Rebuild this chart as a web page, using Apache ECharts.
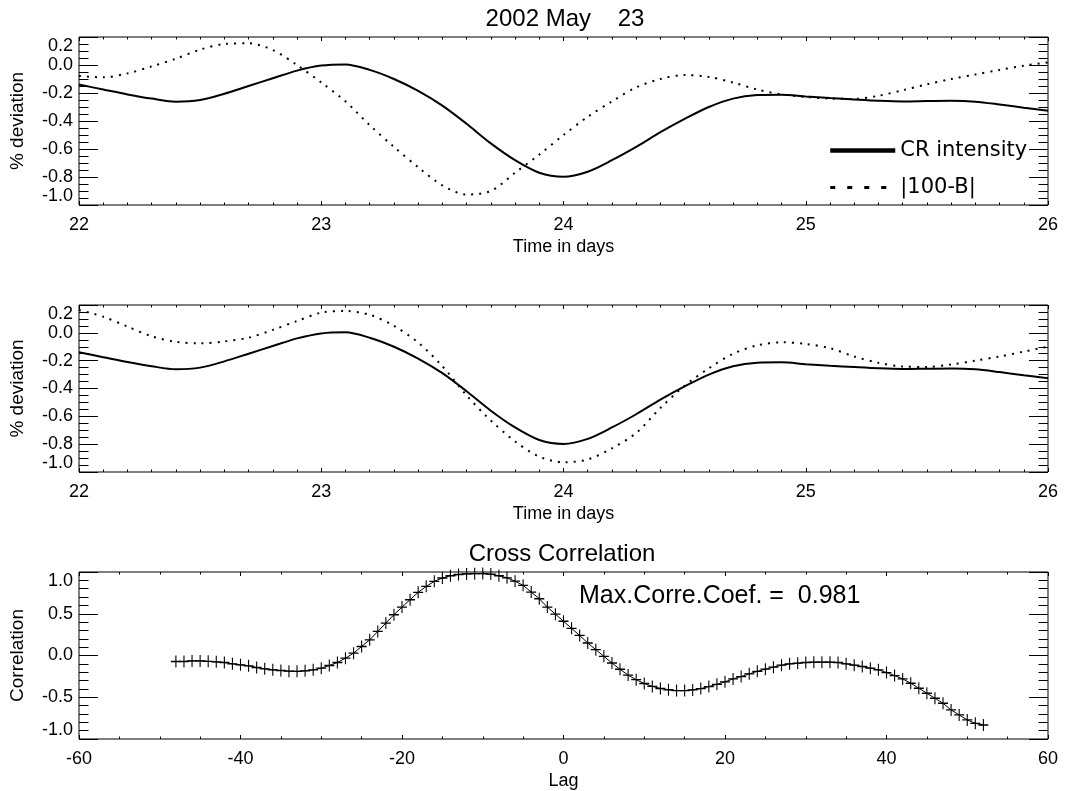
<!DOCTYPE html>
<html>
<head>
<meta charset="utf-8">
<title>2002 May 23 - CR intensity vs |100-B|</title>
<script src="https://cdn.jsdelivr.net/npm/echarts@6/dist/echarts.min.js"></script>
<style>
  html, body { margin: 0; padding: 0; background: #fff; }
  #chart { width: 1080px; height: 791px; }
</style>
</head>
<body>
<div id="chart"></div>
<script>
// time axis of the two upper panels (days of May 2002)
const timeDays = [
  22.0, 22.1, 22.2, 22.3, 22.4, 22.5, 22.6, 22.7, 22.8, 22.9,
  23.0, 23.1, 23.2, 23.3, 23.4, 23.5, 23.6, 23.7, 23.8, 23.9,
  24.0, 24.1, 24.2, 24.3, 24.4, 24.5, 24.6, 24.7, 24.8, 24.9,
  25.0, 25.1, 25.2, 25.3, 25.4, 25.5, 25.6, 25.7, 25.8, 25.9, 26.0
]

// % deviation of the CR intensity (same curve in both panels)
const crIntensity = [
  -0.140, -0.175, -0.210, -0.240, -0.262, -0.250, -0.205, -0.150, -0.095, -0.040,
  -0.004, 0.004, -0.035, -0.100, -0.185, -0.290, -0.420, -0.560, -0.680, -0.770,
  -0.798, -0.762, -0.680, -0.585, -0.480, -0.385, -0.300, -0.240, -0.215, -0.212,
  -0.225, -0.236, -0.246, -0.255, -0.260, -0.258, -0.256, -0.262, -0.282, -0.305, -0.327
]

// |100-B| as measured (top panel)
const bDeviation = [
  -0.078, -0.088, -0.060, -0.010, 0.045, 0.110, 0.150, 0.155, 0.107, 0.000,
  -0.125, -0.260, -0.430, -0.585, -0.730, -0.860, -0.925, -0.900, -0.770, -0.640,
  -0.500, -0.370, -0.260, -0.160, -0.100, -0.071, -0.085, -0.125, -0.175, -0.210,
  -0.228, -0.240, -0.242, -0.220, -0.180, -0.138, -0.100, -0.068, -0.035, -0.005, 0.019
]

// |100-B| shifted by the lag of best correlation (middle panel)
const bDeviationShifted = [
  0.164, 0.116, 0.045, -0.025, -0.065, -0.075, -0.062, -0.035, 0.021, 0.085,
  0.145, 0.157, 0.130, 0.050, -0.070, -0.240, -0.450, -0.630, -0.780, -0.890,
  -0.930, -0.910, -0.830, -0.720, -0.540, -0.380, -0.255, -0.150, -0.090, -0.068,
  -0.080, -0.110, -0.170, -0.215, -0.242, -0.245, -0.228, -0.200, -0.170, -0.135, -0.099
]

// cross correlation
const lags = [
  -48, -47, -46, -45, -44, -43, -42, -41, -40, -39, -38, -37, -36, -35, -34, -33, -32,
  -31, -30, -29, -28, -27, -26, -25, -24, -23, -22, -21, -20, -19, -18, -17, -16, -15,
  -14, -13, -12, -11, -10, -9, -8, -7, -6, -5, -4, -3, -2, -1, 0, 1, 2, 3, 4, 5, 6, 7,
  8, 9, 10, 11, 12, 13, 14, 15, 16, 17, 18, 19, 20, 21, 22, 23, 24, 25, 26, 27, 28, 29,
  30, 31, 32, 33, 34, 35, 36, 37, 38, 39, 40, 41, 42, 43, 44, 45, 46, 47, 48, 49, 50, 51, 52
]
const correlation = [
  -0.072, -0.072, -0.065, -0.065, -0.070, -0.076, -0.084, -0.100, -0.112, -0.124, -0.144,
  -0.160, -0.172, -0.180, -0.188, -0.190, -0.184, -0.172, -0.152, -0.120, -0.084, -0.032,
  0.028, 0.108, 0.188, 0.288, 0.388, 0.488, 0.580, 0.668, 0.756, 0.828, 0.888, 0.928,
  0.955, 0.970, 0.977, 0.980, 0.981, 0.975, 0.955, 0.930, 0.890, 0.840, 0.760, 0.680,
  0.580, 0.495, 0.410, 0.325, 0.240, 0.150, 0.070, -0.010, -0.090, -0.165, -0.235,
  -0.290, -0.335, -0.370, -0.395, -0.410, -0.420, -0.420, -0.412, -0.396, -0.372, -0.345,
  -0.315, -0.280, -0.252, -0.220, -0.190, -0.164, -0.140, -0.116, -0.100, -0.092, -0.084,
  -0.080, -0.080, -0.080, -0.084, -0.100, -0.116, -0.132, -0.152, -0.172, -0.204, -0.240,
  -0.280, -0.332, -0.392, -0.452, -0.512, -0.572, -0.652, -0.712, -0.772, -0.812, -0.832
]
const maxCorrCoef = 0.981

const FONT = 'Liberation Sans'
const zip = (xs, ys) => xs.map((x, i) => [x, ys[i]])
const black = { color: '#000' }

// IDL style box: ticks inside on all four sides, labels only bottom / left
function xAxes(grid, min, max, interval, minorSplit, name) {
  const base = {
    type: 'value', gridIndex: grid, min, max, interval,
    axisLine: { show: false, onZero: false }, splitLine: { show: false },
    axisTick: { inside: true, length: 4, lineStyle: black },
    minorTick: { show: true, splitNumber: minorSplit, length: 2.5, lineStyle: black }
  }
  return [
    {
      ...base, position: 'bottom',
      name, nameLocation: 'middle', nameGap: 33,
      nameTextStyle: { fontFamily: FONT, fontSize: 18, color: '#000' },
      axisLabel: { margin: 11, fontFamily: FONT, fontSize: 18, color: '#000' }
    },
    { ...base, position: 'top', axisLabel: { show: false } }
  ]
}

function yAxes(grid, min, max, interval, minorSplit, name) {
  const base = {
    type: 'value', gridIndex: grid, min, max, interval,
    axisLine: { show: false, onZero: false }, splitLine: { show: false },
    axisTick: { inside: true, length: 19, lineStyle: black },
    minorTick: { show: true, splitNumber: minorSplit, length: 9.5, lineStyle: black }
  }
  return [
    {
      ...base, position: 'left',
      name, nameLocation: 'middle', nameGap: 52,
      nameTextStyle: { fontFamily: FONT, fontSize: 19, color: '#000' },
      axisLabel: {
        margin: 6, fontFamily: FONT, fontSize: 18, color: '#000',
        formatter: v => v.toFixed(1),
        verticalAlignMinLabel: 'bottom', verticalAlignMaxLabel: 'top'
      }
    },
    { ...base, position: 'right', axisLabel: { show: false } }
  ]
}

const chart = echarts.init(document.getElementById('chart'))

chart.setOption({
  animation: false,
  backgroundColor: '#fff',
  title: [
    {
      text: '2002 May    23', left: 565, top: 19, padding: 0,
      textAlign: 'center', textVerticalAlign: 'middle',
      textStyle: { fontFamily: FONT, fontSize: 24, fontWeight: 'normal', color: '#000' }
    },
    {
      text: 'Cross Correlation', left: 562, top: 554, padding: 0,
      textAlign: 'center', textVerticalAlign: 'middle',
      textStyle: { fontFamily: FONT, fontSize: 24, fontWeight: 'normal', color: '#000' }
    }
  ],
  legend: {
    orient: 'vertical', left: 828, top: 140, padding: 0,
    itemWidth: 65, itemHeight: 14, itemGap: 16,
    selectedMode: false,
    itemStyle: { opacity: 0 },
    textStyle: { fontFamily: 'DejaVu Sans', fontSize: 21, color: '#000' },
    data: [
      { name: 'CR intensity', lineStyle: { width: 4.5 } },
      { name: '|100-B|', lineStyle: { width: 3, type: [5, 12] } }
    ]
  },
  graphic: [
    {
      type: 'text', x: 579, y: 596,
      style: {
        text: 'Max.Corre.Coef. =  ' + maxCorrCoef.toFixed(3),
        font: '25px "Liberation Sans"', fill: '#000', verticalAlign: 'middle'
      }
    }
  ],
  grid: [
    { left: 78, right: 32, top: 37, height: 168, show: true, borderColor: '#000', borderWidth: 1 },
    { left: 78, right: 32, top: 305, height: 167, show: true, borderColor: '#000', borderWidth: 1 },
    { left: 78, right: 32, top: 572, height: 167, show: true, borderColor: '#000', borderWidth: 1 }
  ],
  xAxis: [
    ...xAxes(0, 22, 26, 1, 10, 'Time in days'),
    ...xAxes(1, 22, 26, 1, 10, 'Time in days'),
    ...xAxes(2, -60, 60, 20, 4, 'Lag')
  ],
  yAxis: [
    ...yAxes(0, -1, 0.2, 0.2, 4, '% deviation'),
    ...yAxes(1, -1, 0.2, 0.2, 4, '% deviation'),
    ...yAxes(2, -1, 1, 0.5, 5, 'Correlation')
  ],
  series: [
    {
      name: 'CR intensity', type: 'line', xAxisIndex: 0, yAxisIndex: 0,
      data: zip(timeDays, crIntensity), smooth: 0.3, symbol: 'none',
      itemStyle: { color: '#000' },
      lineStyle: { color: '#000', width: 2 }
    },
    {
      name: '|100-B|', type: 'line', xAxisIndex: 0, yAxisIndex: 0,
      data: zip(timeDays, bDeviation), smooth: 0.3, symbol: 'none',
      itemStyle: { color: '#000' },
      lineStyle: { color: '#000', width: 2, type: [2, 6] }
    },
    {
      name: 'CR intensity', type: 'line', xAxisIndex: 2, yAxisIndex: 2,
      data: zip(timeDays, crIntensity), smooth: 0.3, symbol: 'none',
      itemStyle: { color: '#000' },
      lineStyle: { color: '#000', width: 2 }
    },
    {
      name: '|100-B|', type: 'line', xAxisIndex: 2, yAxisIndex: 2,
      data: zip(timeDays, bDeviationShifted), smooth: 0.3, symbol: 'none',
      itemStyle: { color: '#000' },
      lineStyle: { color: '#000', width: 2, type: [2, 6] }
    },
    {
      name: 'Cross Correlation', type: 'line', xAxisIndex: 4, yAxisIndex: 4,
      data: zip(lags, correlation),
      symbol: 'path://M5 0 L5 12 M0 6 L10 6', symbolSize: [10, 12],
      showAllSymbol: true,
      itemStyle: { color: 'none', borderColor: '#000', borderWidth: 1.2 },
      lineStyle: { color: '#000', width: 1 }
    }
  ]
})

window.addEventListener('resize', () => chart.resize())
</script>
</body>
</html>
